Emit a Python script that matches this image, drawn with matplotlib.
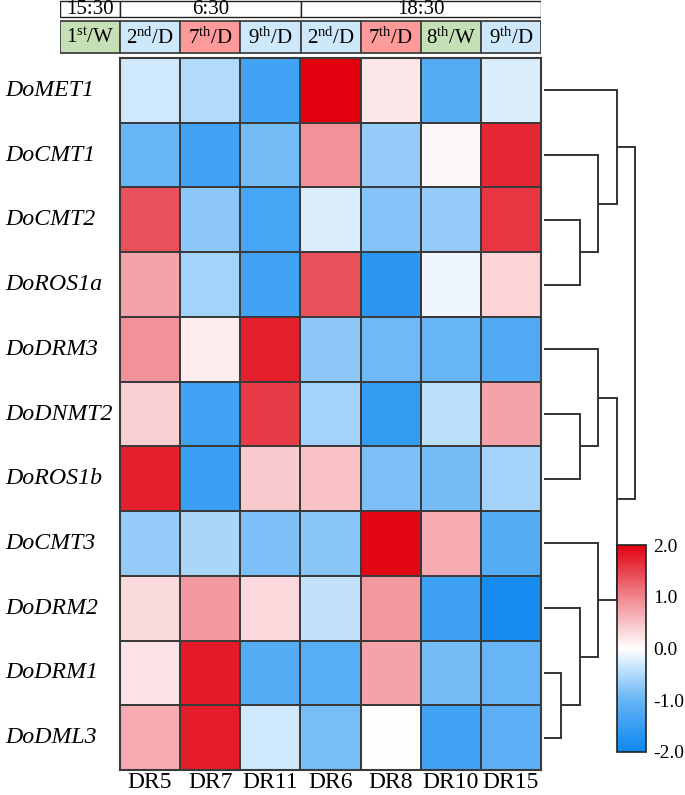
import numpy as np
import matplotlib
matplotlib.use("Agg")
import matplotlib.pyplot as plt
from matplotlib.colors import LinearSegmentedColormap
from matplotlib.patches import Rectangle
from matplotlib.transforms import blended_transform_factory

plt.rcParams['font.family'] = ['Liberation Serif', 'DejaVu Serif']
plt.rcParams['mathtext.fontset'] = 'custom'
plt.rcParams['mathtext.rm'] = 'Liberation Serif'
plt.rcParams['mathtext.it'] = 'Liberation Serif:italic'

# ---------------- data ----------------
genes = ['DoMET1', 'DoCMT1', 'DoCMT2', 'DoROS1a', 'DoDRM3', 'DoDNMT2',
         'DoROS1b', 'DoCMT3', 'DoDRM2', 'DoDRM1', 'DoDML3']
samples = ['DR5', 'DR7', 'DR11', 'DR6', 'DR8', 'DR10', 'DR15']

row_MET1  = [-0.30, -0.50, -1.40,  2.00,  0.20, -1.20, -0.25]
row_CMT1  = [-1.00, -1.40, -0.90,  0.90, -0.70,  0.05,  1.70]
row_CMT2  = [ 1.40, -0.75, -1.35, -0.25, -0.80, -0.70,  1.60]
row_ROS1a = [ 0.75, -0.60, -1.40,  1.40, -1.65, -0.10,  0.35]
row_DRM3  = [ 0.90,  0.15,  1.75, -0.75, -0.95, -1.00, -1.25]
row_DNMT2 = [ 0.40, -1.40,  1.55, -0.60, -1.55, -0.45,  0.75]
row_ROS1b = [ 1.75, -1.50,  0.45,  0.50, -0.85, -0.90, -0.60]
row_CMT3  = [-0.70, -0.55, -0.85, -0.78,  1.95,  0.70, -1.20]
row_DRM2  = [ 0.30,  0.85,  0.32, -0.40,  0.85, -1.45, -1.90]
row_DRM1  = [ 0.22,  1.80, -1.20, -1.15,  0.75, -0.90, -1.00]
row_DML3  = [ 0.70,  1.78, -0.30, -0.88,  0.00, -1.40, -1.10]

# header: one column before the heatmap (1st/W) plus the 7 sample columns
header_days = ['1st/W', '2nd/D', '7th/D', '9th/D', '2nd/D', '7th/D', '8th/W', '9th/D']
header_times = ['15:30', '6:30', '6:30', '6:30', '18:30', '18:30', '18:30', '18:30']

# row dendrogram merges: (child_a, child_b, height); leaves are 0..10
merges = [(9, 10, 20), (2, 3, 39), (5, 6, 39), (8, 11, 39),
          (1, 12, 57), (4, 13, 57), (7, 14, 57),
          (0, 15, 76), (16, 17, 76), (18, 19, 94)]

cbar_ticks = [-2.0, -1.0, 0.0, 1.0, 2.0]

values = np.array([row_MET1, row_CMT1, row_CMT2, row_ROS1a, row_DRM3, row_DNMT2,
                   row_ROS1b, row_CMT3, row_DRM2, row_DRM1, row_DML3])

# ---------------- figure ----------------
W, H = 685, 795
fig = plt.figure(figsize=(W / 100, H / 100), dpi=100)

def px_axes(x0, y0, x1, y1):
    return fig.add_axes([x0 / W, 1 - y1 / H, (x1 - x0) / W, (y1 - y0) / H])

cmap = LinearSegmentedColormap.from_list(
    'bwr_custom',
    [(0.0, '#0d87ef'), (0.25, '#66b5f6'), (0.5, '#ffffff'),
     (0.75, '#f0868f'), (1.0, '#e2000f')])

# heatmap
hx0, hy0, hx1, hy1 = 120, 58, 541, 770
ax = px_axes(hx0, hy0, hx1, hy1)
mesh = ax.pcolormesh(np.arange(len(samples) + 1), np.arange(len(genes) + 1), values,
                     cmap=cmap, vmin=-2, vmax=2, edgecolors='#3a3a3a', linewidth=1.3)
ax.set_xlim(0, len(samples))
ax.set_ylim(len(genes), 0)
ax.set_xticks(np.arange(len(samples)) + 0.5)
ax.set_xticklabels(samples, fontsize=17)
ax.tick_params(axis='x', length=0, pad=1.5)
ax.set_yticks([])
for s in ax.spines.values():
    s.set_color('#3a3a3a')
    s.set_linewidth(1.5)

trans = blended_transform_factory(ax.transAxes, ax.transData)
for i, g in enumerate(genes):
    ax.text((5 - hx0) / (hx1 - hx0), i + 0.5, g, transform=trans, ha='left', va='center',
            fontsize=17.2, style='italic')

# header
hax = px_axes(60, 0, 541, 54)
hax.set_xlim(-1, len(samples))
hax.set_ylim(54, 0)
hax.axis('off')

def sup_label(t):
    num, rest = t.split('/')
    digits = ''.join(c for c in num if c.isdigit())
    suf = num[len(digits):]
    return digits + r'$^{\mathrm{' + suf + '}}$' + '/' + rest

def day_color(t):
    if t.endswith('W'):
        return '#c5e0b4'
    if t.startswith('7th'):
        return '#ff9a9a'
    return '#cde8fb'

for j, t in enumerate(header_days):
    x = j - 1
    hax.add_patch(Rectangle((x, 21), 1, 32, facecolor=day_color(t), edgecolor='#404040',
                            linewidth=1.3))
    hax.text(x + 0.5, 38, sup_label(t), ha='center', va='center', fontsize=15)

# group consecutive time labels
groups = []
for j, t in enumerate(header_times):
    if groups and groups[-1][0] == t:
        groups[-1][2] = j + 1
    else:
        groups.append([t, j, j + 1])
for t, a, b in groups:
    hax.add_patch(Rectangle((a - 1, 0.6), b - a, 16.4, facecolor='white', edgecolor='#222222',
                            linewidth=1.0))
    hax.text((a + b) / 2 - 1, 9.5, t, ha='center', va='center', fontsize=15)

# dendrogram
dax = px_axes(541, hy0, 645, hy1)
dax.set_xlim(0, 104)
dax.set_ylim(len(genes), 0)
dax.axis('off')
pos = {i: (i + 0.5, 3.0) for i in range(len(genes))}
nid = len(genes)
for a, b, h in merges:
    ya, ha = pos[a]
    yb, hb = pos[b]
    dax.plot([ha, h, h, hb], [ya, ya, yb, yb], color='#333333', lw=1.4,
             solid_joinstyle='miter', solid_capstyle='butt')
    pos[nid] = ((ya + yb) / 2, h)
    nid += 1

# colorbar
cax = px_axes(617, 545, 646, 752)
cb = fig.colorbar(mesh, cax=cax, ticks=cbar_ticks)
cb.ax.set_yticklabels(['%.1f' % v for v in cbar_ticks], fontsize=14)
cb.ax.tick_params(length=0, pad=5)
cb.outline.set_edgecolor('#222222')
cb.outline.set_linewidth(1.2)

fig.savefig('out.png', dpi=100)
